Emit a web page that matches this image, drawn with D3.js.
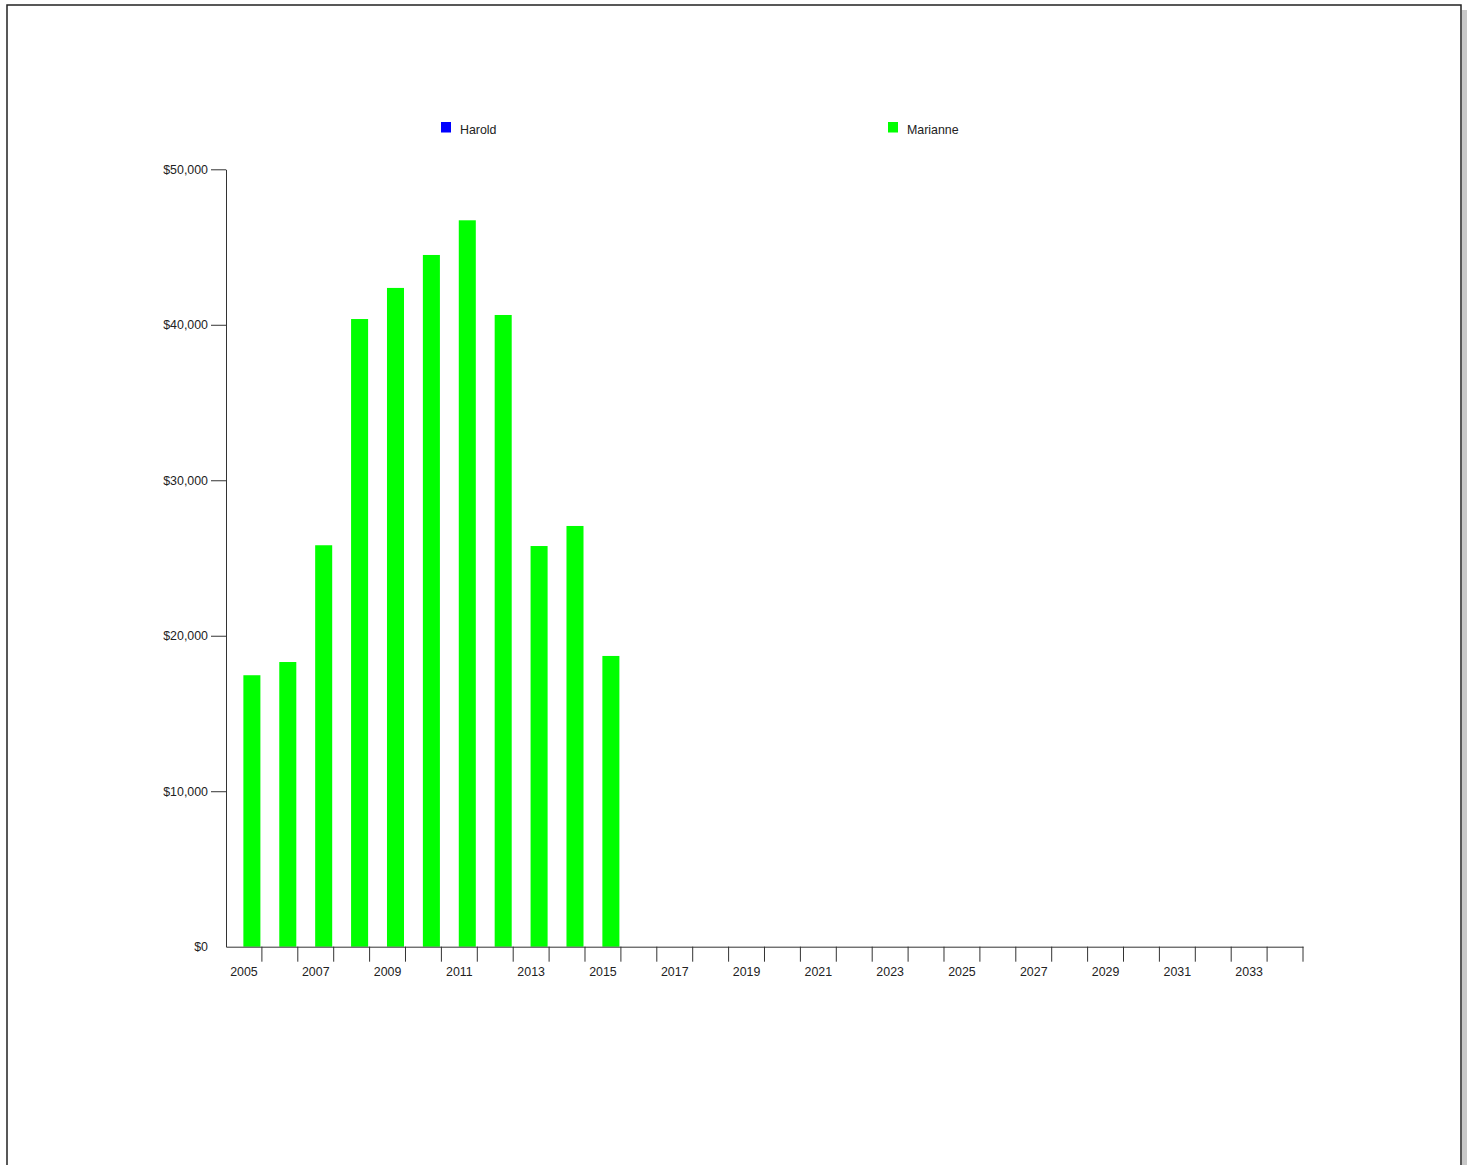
<!DOCTYPE html>
<html>
<head>
<meta charset="utf-8">
<script src="https://cdn.jsdelivr.net/npm/d3@7"></script>
<style>
  html, body { margin: 0; padding: 0; background: #fff; }
  svg { display: block; }
  text { font-family: "Liberation Sans", Arial, Helvetica, sans-serif; fill: #222; }
</style>
</head>
<body>
<svg id="chart" width="1468" height="1165"></svg>
<script>
// ---- data ----
const years = d3.range(2005, 2035).map(String);
const seriesNames = ["Harold", "Marianne"];
const seriesColors = ["#0000ff", "#00ff00"];
const haroldValues = [0, 0, 0, 0, 0, 0, 0, 0, 0, 0, 0];
const marianneValues = [17460, 18310, 25820, 40370, 42370, 44490, 46720, 40630, 25770, 27060, 18700];
const yTicks = [0, 10000, 20000, 30000, 40000, 50000];

// ---- layout ----
const svg = d3.select("#chart");
const plotLeft = 226, plotRight = 1303, plotTop = 169.3, plotBottom = 946.7;

// frame with shadow
svg.append("rect").attr("x", 1462).attr("y", 10).attr("width", 5).attr("height", 1200).attr("fill", "#c8c8c8");
svg.append("rect").attr("x", 7).attr("y", 5).attr("width", 1454).attr("height", 1200)
  .attr("fill", "#fff").attr("stroke", "#222").attr("stroke-width", 1.5);

const x = d3.scaleBand().domain(years).range([plotLeft, plotRight]).padding(0);
const xSub = d3.scaleBand().domain(seriesNames).range([0, x.bandwidth() - 1.5]).paddingInner(0.02).paddingOuter(0);
const y = d3.scaleLinear().domain([0, 50000]).range([plotBottom, plotTop]);
const color = d3.scaleOrdinal().domain(seriesNames).range(seriesColors);

// bars
const seriesData = [haroldValues, marianneValues];
seriesNames.forEach((name, si) => {
  svg.append("g").selectAll("rect")
    .data(seriesData[si].map((v, i) => ({ year: years[i], value: v })))
    .join("rect")
    .attr("x", d => x(d.year) + xSub(name))
    .attr("y", d => y(d.value))
    .attr("width", xSub.bandwidth())
    .attr("height", d => plotBottom - y(d.value))
    .attr("fill", color(name));
});

// y axis
const fmt = d3.format("$,.0f");
const yAxis = svg.append("g").attr("transform", `translate(${plotLeft},0)`)
  .call(d3.axisLeft(y).tickValues(yTicks).tickFormat(fmt).tickSize(15).tickPadding(3).tickSizeOuter(0));
yAxis.selectAll(".tick").filter(d => d === 0).select("line").remove();
yAxis.selectAll("text").style("font-size", "12.4px").attr("fill", "#222");
yAxis.selectAll("line, path").attr("stroke", "#333");

// x axis
const xAxis = svg.append("g").attr("transform", `translate(0,${plotBottom})`)
  .call(d3.axisBottom(x).tickSize(15).tickPadding(6).tickSizeOuter(0)
    .tickFormat((d, i) => i % 2 === 0 ? d : ""));
xAxis.selectAll(".tick line").attr("x1", x.bandwidth() / 2).attr("x2", x.bandwidth() / 2);
xAxis.selectAll("text").style("font-size", "12.4px").attr("fill", "#222");
xAxis.selectAll("line, path").attr("stroke", "#333");

// legend
const legendX = d3.scalePoint().domain(seriesNames).range([441, 888]);
const legend = svg.append("g").selectAll("g").data(seriesNames).join("g")
  .attr("transform", d => `translate(${legendX(d)},122)`);
legend.append("rect").attr("width", 10).attr("height", 10.5).attr("fill", d => color(d));
legend.append("text").attr("x", 19).attr("y", 11.5).style("font-size", "12.4px").text(d => d);
</script>
</body>
</html>
